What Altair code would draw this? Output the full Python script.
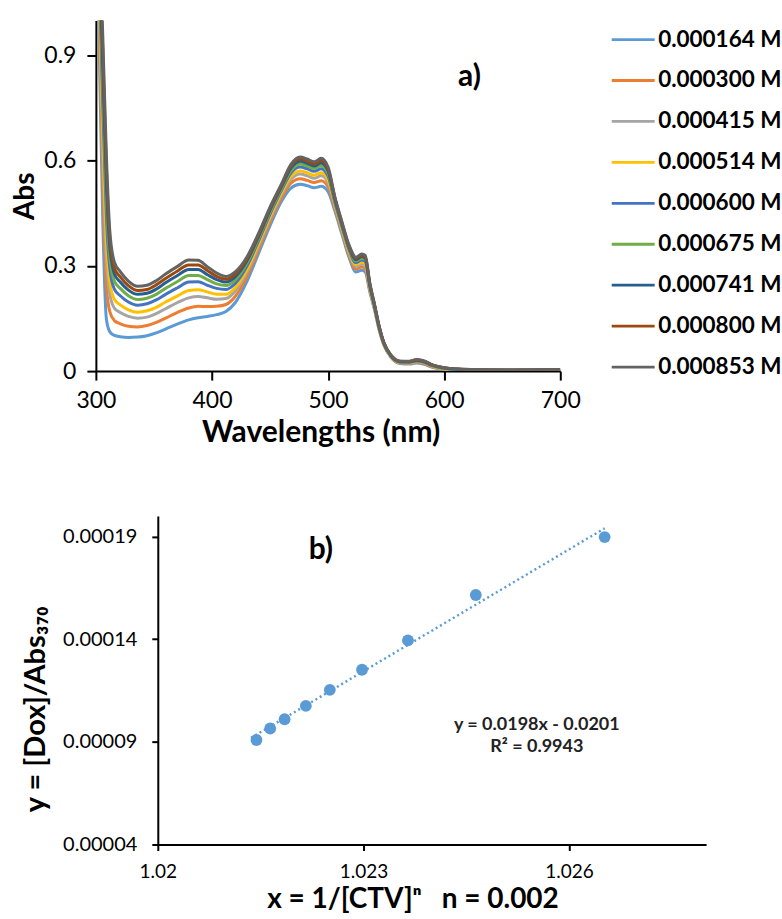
import altair as alt
import pandas as pd

# ---------------- Panel a) : UV-Vis spectra ----------------
WAVELENGTHS = [300, 303, 306, 309, 312, 316, 321, 328, 336, 344, 352, 360, 370, 380, 388, 396,
               404, 412, 420, 430, 440, 450, 460, 468, 476, 482, 488, 494, 500, 506, 512, 518,
               524, 529, 532, 536, 540, 544, 548, 554, 562, 570, 576, 582, 590, 600, 612, 630,
               660, 700]

CONCENTRATIONS = ["0.000164 M", "0.000300 M", "0.000415 M", "0.000514 M", "0.000600 M",
                  "0.000675 M", "0.000741 M", "0.000800 M", "0.000853 M"]
COLORS = ["#5B9BD5", "#ED7D31", "#A5A5A5", "#FFC000", "#4472C4",
          "#70AD47", "#255E91", "#9E480E", "#636363"]

ABS_0164 = [1.30, .90, .42, .15, .112, .102, .098, .096, .097, .101, .109, .120, .134, .146, .152, .156,
            .161, .170, .195, .255, .335, .415, .485, .522, .533, .529, .523, .527, .512, .455, .390, .325,
            .283, .288, .283, .225, .175, .118, .075, .040, .022, .020, .023, .020, .011, .004, .001, .000,
            .000, .002]
ABS_0300 = [1.36, .97, .526, .244, .17, .144, .135, .128, .126, .130, .139, .151, .167, .180, .185, .184,
            .185, .190, .213, .269, .346, .426, .495, .536, .549, .544, .538, .543, .526, .463, .397, .332,
            .291, .297, .292, .230, .178, .120, .076, .041, .023, .022, .025, .022, .012, .005, .002, .001,
            .001, .002]
ABS_0415 = [1.41, 1.03, .616, .324, .219, .179, .167, .156, .151, .154, .164, .178, .195, .209, .213, .209,
            .205, .207, .228, .281, .356, .435, .504, .547, .562, .557, .550, .557, .538, .470, .403, .338,
            .299, .305, .300, .234, .181, .122, .078, .042, .024, .023, .027, .024, .014, .006, .003, .001,
            .001, .003]
ABS_0514 = [1.447, 1.07, .68, .38, .253, .204, .189, .175, .168, .172, .182, .197, .214, .230, .232, .226,
            .219, .219, .238, .289, .363, .441, .510, .555, .571, .566, .559, .566, .546, .475, .407, .342,
            .304, .311, .306, .237, .182, .123, .078, .043, .025, .024, .028, .025, .014, .007, .003, .002,
            .001, .003]
ABS_0600 = [1.489, 1.12, .754, .446, .293, .233, .215, .197, .188, .192, .203, .219, .237, .254, .255, .245,
            .236, .233, .250, .299, .371, .448, .517, .565, .582, .577, .570, .577, .556, .480, .412, .347,
            .309, .317, .313, .241, .184, .124, .079, .044, .026, .025, .029, .026, .015, .008, .004, .003,
            .002, .003]
ABS_0675 = [1.522, 1.159, .812, .498, .325, .256, .236, .215, .204, .208, .219, .236, .255, .273, .273, .261,
            .249, .244, .260, .307, .377, .454, .522, .572, .591, .585, .578, .586, .564, .485, .416, .351,
            .314, .322, .318, .244, .186, .125, .080, .044, .026, .026, .030, .027, .016, .008, .005, .003,
            .002, .003]
ABS_0741 = [1.552, 1.194, .865, .545, .354, .277, .254, .231, .219, .222, .234, .252, .272, .290, .290, .275,
            .261, .254, .269, .314, .383, .460, .527, .579, .599, .593, .585, .594, .571, .489, .419, .354,
            .318, .327, .322, .246, .188, .126, .081, .045, .027, .027, .031, .028, .017, .009, .005, .003,
            .003, .004]
ABS_0800 = [1.576, 1.222, .908, .582, .377, .293, .269, .244, .230, .233, .246, .264, .285, .303, .303, .287,
            .270, .262, .276, .319, .387, .464, .531, .585, .605, .599, .591, .601, .576, .492, .422, .357,
            .322, .330, .326, .248, .189, .127, .081, .046, .028, .027, .032, .029, .017, .010, .006, .004,
            .003, .004]
ABS_0853 = [1.60, 1.25, .95, .62, .40, .31, .284, .257, .242, .245, .258, .277, .298, .317, .316, .298,
            .280, .270, .283, .325, .392, .468, .535, .590, .611, .605, .597, .607, .582, .495, .425, .360,
            .325, .334, .330, .250, .190, .128, .082, .046, .028, .028, .033, .030, .018, .010, .006, .004,
            .003, .004]

SERIES = [ABS_0164, ABS_0300, ABS_0415, ABS_0514, ABS_0600,
          ABS_0675, ABS_0741, ABS_0800, ABS_0853]

X_TICKS_A = [300, 400, 500, 600, 700]
Y_TICKS_A = [0, 0.3, 0.6, 0.9]

# ---------------- Panel b) : Benesi-Hildebrand type plot ----------------
X_B = [1.02144, 1.02164, 1.02185, 1.02216, 1.02251, 1.02298, 1.02365, 1.02464, 1.02652]
Y_B = [0.0000909, 0.0000965, 0.0001010, 0.0001075, 0.0001153, 0.0001251, 0.0001394, 0.0001615, 0.0001897]
X_TICKS_B = [1.02, 1.023, 1.026]
Y_TICKS_B = [0.00004, 0.00009, 0.00014, 0.00019]

EQ_LINES = ["y = 0.0198x - 0.0201", "R\u00b2 = 0.9943"]
EQ_X = [1.02553, 1.02553]
EQ_Y = [0.0000984, 0.0000877]

FONT = "Lato"
AXIS_COMMON = dict(domainColor="black", tickColor="black", domainWidth=2, tickWidth=2,
                   labelColor="black", titleColor="black", grid=False, labelFont=FONT,
                   titleFont=FONT, labelFlush=False, labelOverlap=False)

# ---------- build spectra table ----------
rows = []
for conc, vals in zip(CONCENTRATIONS, SERIES):
    for wl, a in zip(WAVELENGTHS, vals):
        rows.append({"wl": wl, "abs": a, "conc": conc})
spec = pd.DataFrame(rows)

lines = alt.Chart(spec).mark_line(strokeWidth=3, clip=True, interpolate="monotone").encode(
    x=alt.X("wl:Q", scale=alt.Scale(domain=[300, 700], nice=False, zero=False),
            axis=alt.Axis(values=X_TICKS_A, title="Wavelengths (nm)", labelFontSize=23,
                          tickSize=9, labelPadding=9, titleFontSize=30, titleFontWeight="bold",
                          titlePadding=5, titleX=225, **AXIS_COMMON)),
    y=alt.Y("abs:Q", scale=alt.Scale(domain=[0, 1.0], nice=False),
            axis=alt.Axis(values=Y_TICKS_A, title="Abs",
                          labelExpr="datum.value == 0 ? '0' : format(datum.value, '.1f')",
                          labelFontSize=23, tickSize=9, labelPadding=11, titleFontSize=28,
                          titleFontWeight="bold", titlePadding=4, **AXIS_COMMON)),
    color=alt.Color("conc:N", sort=CONCENTRATIONS,
                    scale=alt.Scale(domain=CONCENTRATIONS, range=COLORS),
                    legend=alt.Legend(title=None, orient="none", legendX=606, legendY=-4,
                                      symbolType="stroke", symbolSize=1849, symbolStrokeWidth=2.8,
                                      labelFontSize=22.5, labelFont=FONT, labelFontWeight="bold",
                                      labelColor="black", rowPadding=6, labelOffset=2,
                                      symbolOffset=0, padding=0)),
)

label_a = alt.Chart(pd.DataFrame({"t": ["a)"], "x": [621.8], "y": [0.84]})).mark_text(
    font=FONT, fontSize=30, fontWeight="bold", color="black"
).encode(x="x:Q", y="y:Q", text="t:N")

top = alt.layer(lines, label_a).properties(width=465, height=351)

# ---------- panel b ----------
pts = pd.DataFrame({"x": X_B, "y": Y_B})
xb = alt.X("x:Q", scale=alt.Scale(domain=[1.02, 1.028], nice=False, zero=False),
           axis=alt.Axis(values=X_TICKS_B, format=".3~f",
                         title="x = 1/[CTV]\u207f\u00a0\u00a0 n = 0.002",
                         labelFontSize=19, tickSize=6, labelPadding=12, titleFontSize=28,
                         titleFontWeight="bold", titlePadding=4, titleX=255, **AXIS_COMMON))
yb = alt.Y("y:Q", scale=alt.Scale(domain=[0.00004, 0.0002], nice=False, zero=False),
           axis=alt.Axis(values=Y_TICKS_B, format=".5f", title="y = [Dox]/Abs\u2083\u2087\u2080",
                         labelFontSize=20, tickSize=6, labelPadding=15, titleFontSize=29,
                         titleFontWeight="bold", titlePadding=12, titleY=193, **AXIS_COMMON))

scatter = alt.Chart(pts).mark_circle(size=140, color="#5B9BD5", opacity=1).encode(x=xb, y=yb)
trend = alt.Chart(pts).transform_regression(
    "x", "y", extent=[1.02136, 1.02652]
).mark_line(color="#5B9BD5", strokeWidth=2.4, strokeDash=[2, 3]).encode(x=xb, y=yb)

label_b = alt.Chart(pd.DataFrame({"t": ["b)"], "x": [1.02238], "y": [0.0001832]})).mark_text(
    font=FONT, fontSize=30, fontWeight="bold", color="black"
).encode(x="x:Q", y="y:Q", text="t:N")

eq = alt.Chart(pd.DataFrame({"t": EQ_LINES, "x": EQ_X, "y": EQ_Y})).mark_text(
    font=FONT, fontSize=18, fontWeight="bold", color="#222222"
).encode(x="x:Q", y="y:Q", text="t:N")

bottom = alt.layer(trend, scatter, label_b, eq).properties(width=549, height=329)


def spacer(w):
    return alt.Chart(pd.DataFrame({"v": [0]})).mark_point(opacity=0).encode(
        x=alt.X("v:Q", axis=None), y=alt.Y("v:Q", axis=None)
    ).properties(width=w, height=1)


row1 = alt.hconcat(spacer(6), top, spacing=0)
row2 = alt.hconcat(spacer(16), bottom, spacing=0)

chart = alt.vconcat(row1, row2, spacing=66).properties(
    padding={"left": 5, "top": 16, "right": 0, "bottom": 0}
).configure(font=FONT).configure_view(stroke=None)

chart.save("out.html", embed_options={"renderer": "svg", "actions": False})
